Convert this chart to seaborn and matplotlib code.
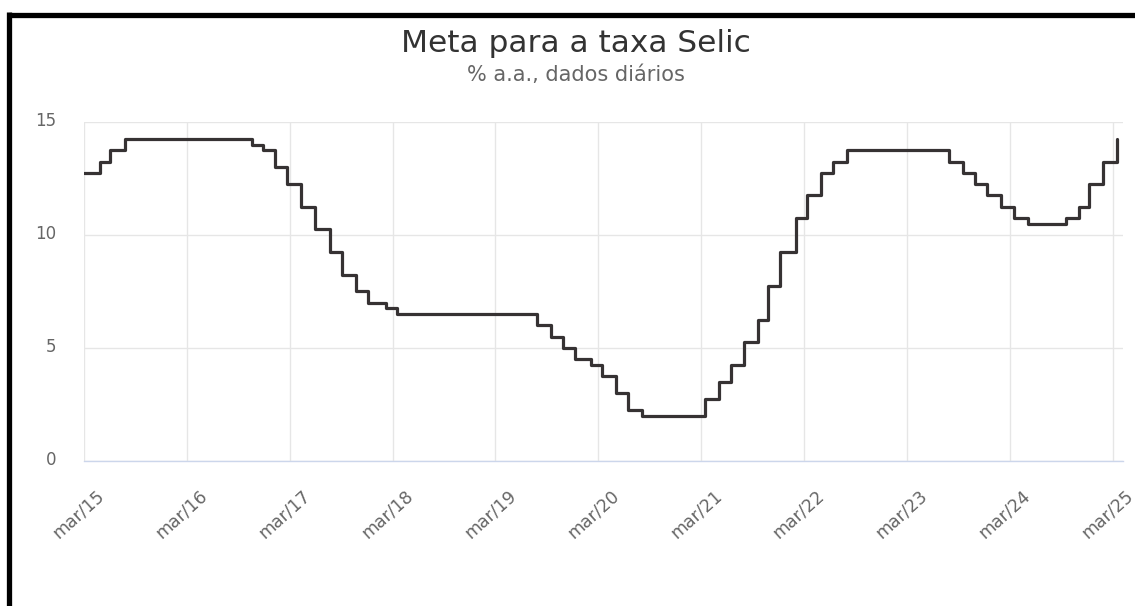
import matplotlib
matplotlib.use("Agg")
import matplotlib.pyplot as plt
import matplotlib.transforms as mtransforms
from matplotlib.lines import Line2D
import seaborn as sns
import pandas as pd

# Selic target changes (date the new rate took effect, % a.a.)
change_dates = [
    "2015-03-05", "2015-04-30", "2015-06-04", "2015-07-30",
    "2016-10-20", "2016-12-01", "2017-01-12", "2017-02-23", "2017-04-13",
    "2017-06-01", "2017-07-27", "2017-09-07", "2017-10-26", "2017-12-07",
    "2018-02-08", "2018-03-22",
    "2019-08-01", "2019-09-19", "2019-10-31", "2019-12-12", "2020-02-06",
    "2020-03-19", "2020-05-07", "2020-06-18", "2020-08-06",
    "2021-03-18", "2021-05-06", "2021-06-17", "2021-08-05", "2021-09-23",
    "2021-10-28", "2021-12-09", "2022-02-03", "2022-03-17", "2022-05-05",
    "2022-06-16", "2022-08-04",
    "2023-08-03", "2023-09-21", "2023-11-02", "2023-12-14", "2024-02-01",
    "2024-03-21", "2024-05-09",
    "2024-09-19", "2024-11-07", "2024-12-12", "2025-01-30", "2025-03-20",
]
selic_rates = [
    12.75, 13.25, 13.75, 14.25,
    14.00, 13.75, 13.00, 12.25, 11.25, 10.25, 9.25, 8.25, 7.50, 7.00, 6.75, 6.50,
    6.00, 5.50, 5.00, 4.50, 4.25, 3.75, 3.00, 2.25, 2.00,
    2.75, 3.50, 4.25, 5.25, 6.25, 7.75, 9.25, 10.75, 11.75, 12.75, 13.25, 13.75,
    13.25, 12.75, 12.25, 11.75, 11.25, 10.75, 10.50,
    10.75, 11.25, 12.25, 13.25, 14.25,
]
tick_dates = [f"{y}-03-05" for y in range(2015, 2026)]
tick_labels = [f"mar/{y % 100:02d}" for y in range(2015, 2026)]
y_ticks = [0, 5, 10, 15]

df = pd.DataFrame({"data": pd.to_datetime(change_dates), "selic": selic_rates})

sns.set_style("white")
plt.rcParams["font.family"] = ["DejaVu Sans"]

fig = plt.figure(figsize=(11.35, 6.06), dpi=100)
ax = fig.add_axes([0.074, 0.2393, 0.915, 0.5594])

sns.lineplot(data=df, x="data", y="selic", drawstyle="steps-post",
             color="#363233", linewidth=2.3, ax=ax)

ax.set_xlim(pd.Timestamp("2015-03-05"), pd.Timestamp("2025-04-09"))
ax.set_ylim(0, 15)
ax.set_xticks(pd.to_datetime(tick_dates))
ax.set_xticklabels(tick_labels, rotation=42, ha="right",
                   rotation_mode="anchor", fontsize=12.5, color="#666666")
ax.set_yticks(y_ticks)
ax.set_yticklabels([str(v) for v in y_ticks], fontsize=12, color="#666666")

ax.grid(True, color="#e6e6e6", linewidth=1)
for s in ["top", "right", "left"]:
    ax.spines[s].set_visible(False)
ax.spines["bottom"].set_color("#ccd6eb")
ax.spines["bottom"].set_linewidth(1)
ax.tick_params(axis="x", length=12, width=1, color="#d9d9d9", pad=4)
ax.tick_params(axis="y", length=0, pad=20)

offset = mtransforms.ScaledTranslation(12 / 100, -3 / 100, fig.dpi_scale_trans)
for lbl in ax.get_xticklabels():
    lbl.set_transform(lbl.get_transform() + offset)
yoff = mtransforms.ScaledTranslation(0, 3 / 100, fig.dpi_scale_trans)
for lbl in ax.get_yticklabels():
    lbl.set_transform(lbl.get_transform() + yoff)

ax.set_xlabel("")
ax.set_ylabel("")

fig.text(0.507, 0.928, "Meta para a taxa Selic", ha="center", va="center",
         fontsize=22.5, color="#333333")
fig.text(0.507, 0.877, "% a.a., dados diários", ha="center", va="center",
         fontsize=15, color="#666666")

# black frame (top and left only, as in the cropped screenshot)
fig.add_artist(Line2D([0.0075, 1.0], [0.976, 0.976], color="black",
                      linewidth=3.8, transform=fig.transFigure, solid_capstyle="butt"))
fig.add_artist(Line2D([0.0075, 0.0075], [0.0, 0.98], color="black",
                      linewidth=3.8, transform=fig.transFigure, solid_capstyle="butt"))

fig.savefig("out.png", dpi=100)
